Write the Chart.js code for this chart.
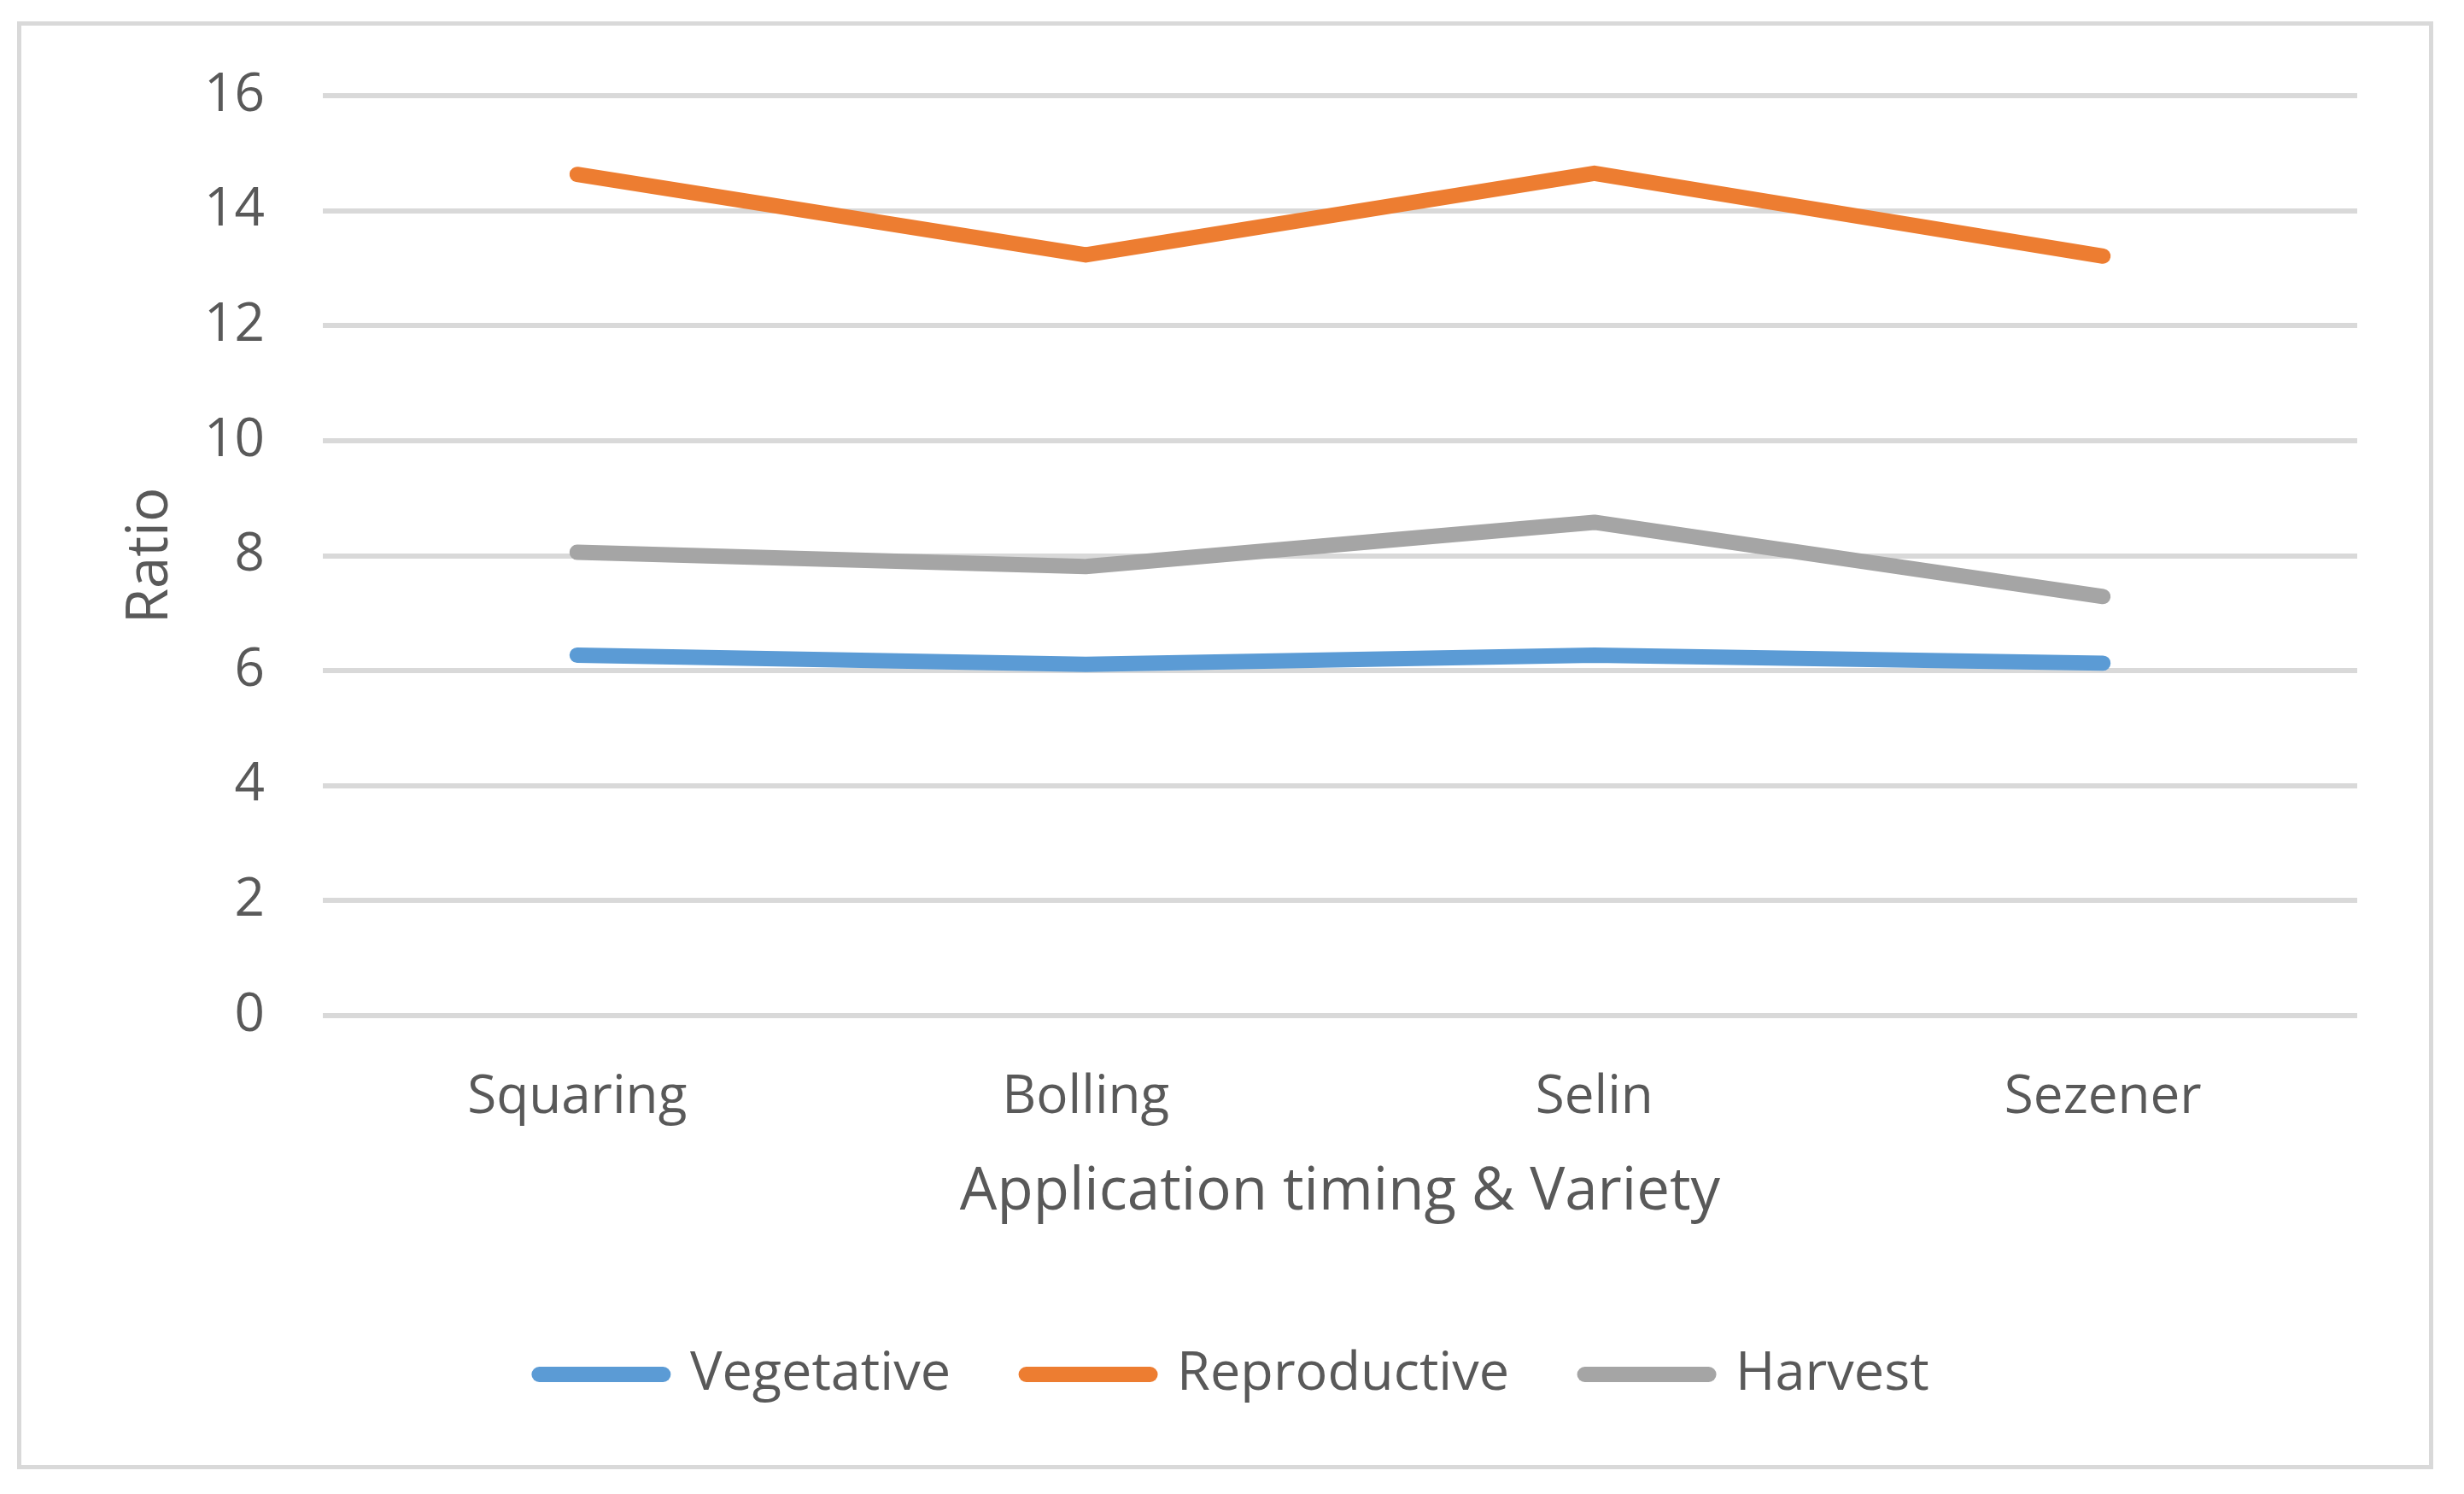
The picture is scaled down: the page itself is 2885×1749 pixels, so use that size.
<!DOCTYPE html>
<html>
<head>
<meta charset="utf-8">
<script src="https://cdn.jsdelivr.net/npm/chart.js@4/dist/chart.umd.min.js"></script>
<style>
  html, body { margin: 0; padding: 0; background: #ffffff; }
  #wrap { position: relative; width: 2885px; height: 1749px; }
  #frame { position: absolute; left: 20px; top: 25px; width: 2829px; height: 1695px;
           border: 5px solid #d9d9d9; box-sizing: border-box; }
  #c { position: absolute; left: 0; top: 0; }
</style>
</head>
<body>
<div id="wrap">
  <div id="frame"></div>
  <canvas id="c" width="2885" height="1749"></canvas>
</div>
<script>
const categories = ["Squaring", "Bolling", "Selin", "Sezener"];
const vegetative = [6.27, 6.11, 6.27, 6.13];
const reproductive = [14.63, 13.23, 14.65, 13.21];
const harvest = [8.06, 7.81, 8.58, 7.29];
const yTicks = [0, 2, 4, 6, 8, 10, 12, 14, 16];
const xTitle = "Application timing & Variety";
const yTitle = "Ratio";

const FONT = "'Open Sans', 'Noto Sans', sans-serif";
const TEXT = "#595959";
const GRID = "#d9d9d9";

function ds(label, data, color) {
  return {
    label, data,
    borderColor: color, backgroundColor: color,
    borderWidth: 18, borderCapStyle: 'round', borderJoinStyle: 'round',
    pointRadius: 0, pointHoverRadius: 0, tension: 0, fill: false
  };
}

new Chart(document.getElementById('c'), {
  type: 'line',
  data: {
    labels: categories,
    datasets: [
      ds("Vegetative", vegetative, "#5b9bd5"),
      ds("Reproductive", reproductive, "#ed7d31"),
      ds("Harvest", harvest, "#a5a5a5")
    ]
  },
  options: {
    responsive: false,
    devicePixelRatio: 1,
    animation: false,
    events: [],
    layout: { padding: { left: 130, right: 125, top: 112, bottom: 98.5 } },
    plugins: {
      tooltip: { enabled: false },
      legend: {
        position: 'bottom',
        align: 'center',
        labels: {
          usePointStyle: true,
          pointStyle: 'line',
          pointStyleWidth: 145,
          boxHeight: 18,
          padding: 88.5,
          color: TEXT,
          font: { family: FONT, size: 63 },
          generateLabels: (chart) => Chart.defaults.plugins.legend.labels.generateLabels(chart)
            .map(it => Object.assign(it, { lineCap: 'round', lineWidth: 18 }))
        }
      }
    },
    scales: {
      x: {
        offset: true,
        grid: { display: false },
        border: { display: false },
        ticks: { color: TEXT, font: { family: FONT, size: 62 }, padding: 51, maxRotation: 0, autoSkip: false },
        title: { display: true, text: xTitle, color: TEXT, font: { family: FONT, size: 69 }, padding: { top: 0, bottom: 51 } },
        afterFit: (s) => { s.height = 300; }
      },
      y: {
        min: 0, max: 16,
        afterBuildTicks: (s) => { s.ticks = yTicks.map(v => ({ value: v })); },
        grid: { color: GRID, lineWidth: 6, drawTicks: false },
        border: { display: false },
        ticks: { color: TEXT, font: { family: FONT, size: 62 }, padding: 68 },
        title: { display: true, text: yTitle, color: TEXT, font: { family: FONT, size: 67 }, padding: { top: 7, bottom: 0 } },
        afterFit: (s) => { s.width = 248; }
      }
    }
  }
});
</script>
</body>
</html>
